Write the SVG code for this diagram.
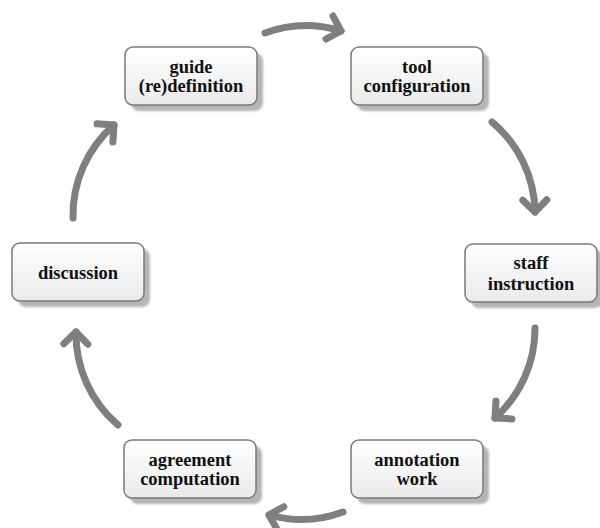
<svg xmlns="http://www.w3.org/2000/svg" width="600" height="528" viewBox="0 0 600 528">
<style>
.box{fill:url(#g);stroke:#7a7a7a;stroke-width:1.5}
.sh{fill:#b5b5b5;filter:url(#b)}
.t{font-family:"Liberation Serif","Times New Roman",serif;font-weight:bold;font-size:18.5px;fill:#111;text-anchor:middle}
.a{fill:none;stroke:#7f7f7f;stroke-width:7;stroke-linecap:round;marker-end:url(#m)}
</style>
<defs>
<linearGradient id="g" x1="0" y1="0" x2="0" y2="1">
<stop offset="0" stop-color="#ffffff"/>
<stop offset="1" stop-color="#eaeaea"/>
</linearGradient>
<filter id="b" x="-10%" y="-10%" width="120%" height="130%"><feGaussianBlur stdDeviation="1.2"/></filter>
<marker id="m" markerUnits="userSpaceOnUse" markerWidth="40" markerHeight="40" refX="20" refY="20" orient="auto" viewBox="0 0 40 40">
<path d="M8,8 L20,20 L8,32" fill="none" stroke="#7f7f7f" stroke-width="7" stroke-linecap="round" stroke-linejoin="round"/>
</marker>
</defs>
<g id="connectors">
<path class="a" d="M265,33 A120,120 0 0 1 341,31"/>
<path class="a" d="M492,122 A120,120 0 0 1 535,212"/>
<path class="a" d="M535,328 A120,120 0 0 1 495,418"/>
<path class="a" d="M343,512 A120,120 0 0 1 269,515"/>
<path class="a" d="M118,425 A120,120 0 0 1 76,332"/>
<path class="a" d="M73,218 A120,120 0 0 1 114,125"/>
</g>
<g id="guide">
<rect class="sh" x="131" y="53" width="132" height="58" rx="8"/>
<rect class="box" x="125" y="47" width="132" height="58" rx="8"/>
<text class="t" x="191" y="73">guide</text>
<text class="t" x="191" y="92">(re)definition</text>
</g>
<g id="tool">
<rect class="sh" x="357" y="53" width="132" height="58" rx="8"/>
<rect class="box" x="351" y="47" width="132" height="58" rx="8"/>
<text class="t" x="417" y="73">tool</text>
<text class="t" x="417" y="92">configuration</text>
</g>
<g id="staff">
<rect class="sh" x="471" y="250" width="132" height="58" rx="8"/>
<rect class="box" x="465" y="244" width="132" height="58" rx="8"/>
<text class="t" x="531" y="269">staff</text>
<text class="t" x="531" y="290">instruction</text>
</g>
<g id="annotation">
<rect class="sh" x="357" y="446" width="132" height="58" rx="8"/>
<rect class="box" x="351" y="440" width="132" height="58" rx="8"/>
<text class="t" x="417" y="466">annotation</text>
<text class="t" x="417" y="485">work</text>
</g>
<g id="agreement">
<rect class="sh" x="130" y="446" width="132" height="58" rx="8"/>
<rect class="box" x="124" y="440" width="132" height="58" rx="8"/>
<text class="t" x="190" y="466">agreement</text>
<text class="t" x="190" y="485">computation</text>
</g>
<g id="discussion">
<rect class="sh" x="18" y="249" width="132" height="58" rx="8"/>
<rect class="box" x="12" y="243" width="132" height="58" rx="8"/>
<text class="t" x="78" y="279">discussion</text>
</g>
</svg>
